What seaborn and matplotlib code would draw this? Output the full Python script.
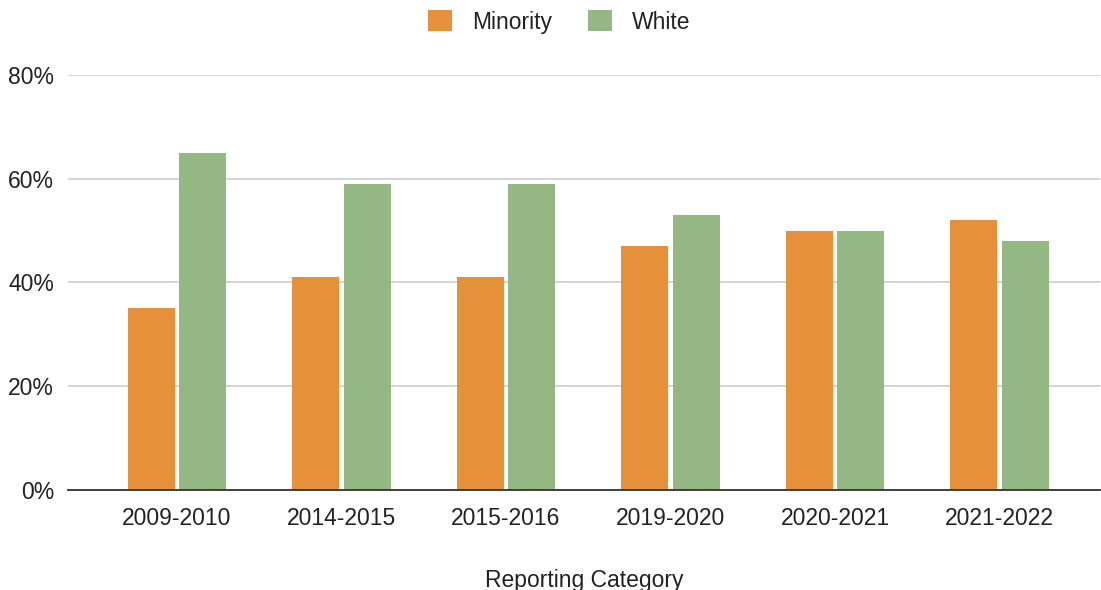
import matplotlib
matplotlib.use("Agg")
import matplotlib.pyplot as plt
import seaborn as sns
import pandas as pd
from matplotlib.ticker import FuncFormatter
from matplotlib.patches import Patch

categories = ["2009-2010", "2014-2015", "2015-2016", "2019-2020", "2020-2021", "2021-2022"]
minority = [35, 41, 41, 47, 50, 52]
white = [65, 59, 59, 53, 50, 48]
series_names = ["Minority", "White"]
colors = ["#E6913A", "#93B883"]

df = pd.DataFrame({
    "Reporting Category": categories * 2,
    "value": minority + white,
    "group": [series_names[0]] * len(categories) + [series_names[1]] * len(categories),
})

sns.set_theme(style="white")
plt.rcParams["font.family"] = ["Liberation Sans", "DejaVu Sans"]

fs = 16.5
fig = plt.figure(figsize=(11.01, 5.9), dpi=100)
ax = fig.add_axes([0.0618, 0.1695, 0.9372, 0.7035])

sns.barplot(data=df, x="Reporting Category", y="value", hue="group",
            palette=colors, width=0.625, gap=0.08, ax=ax, legend=False,
            saturation=1, edgecolor="none")

ax.set_ylim(0, 80)
ax.set_xlim(-0.662, 5.61)
ax.set_yticks([0, 20, 40, 60, 80])
ax.yaxis.set_major_formatter(FuncFormatter(lambda v, p: f"{int(v)}%"))
ax.grid(axis="y", color="#cccccc", linewidth=1.2)
ax.set_axisbelow(True)
for s in ["top", "right", "left"]:
    ax.spines[s].set_visible(False)
ax.spines["bottom"].set_color("#333333")
ax.spines["bottom"].set_linewidth(1.3)
ax.spines["bottom"].set_zorder(5)
ax.tick_params(axis="both", length=0, labelsize=fs, colors="#222222")
ax.tick_params(axis="x", pad=12)
ax.tick_params(axis="y", pad=10)
ax.set_ylabel("")
ax.set_xlabel("Reporting Category", fontsize=fs, color="#222222", labelpad=28)

handles = [Patch(facecolor=c, edgecolor="none") for c in colors]
fig.legend(handles, series_names, loc="center", bbox_to_anchor=(0.508, 0.963),
           ncol=2, frameon=False, fontsize=fs, handlelength=1.05, handleheight=1.05,
           columnspacing=1.6, handletextpad=0.85, labelcolor="#222222")

fig.savefig("out.png", dpi=100)
